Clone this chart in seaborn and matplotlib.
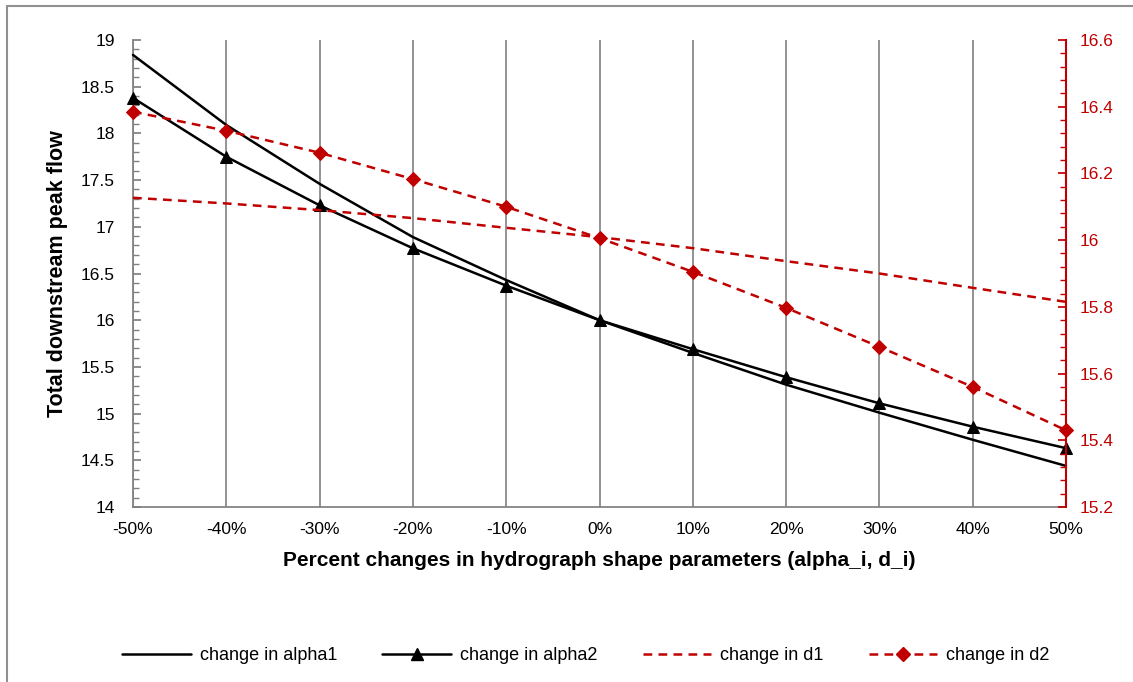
import matplotlib
matplotlib.use("Agg")
import matplotlib.pyplot as plt
import seaborn as sns
import pandas as pd
from matplotlib.ticker import MultipleLocator
from matplotlib.lines import Line2D

sns.set_theme(style="white")
plt.rcParams['font.family'] = ['Liberation Sans', 'DejaVu Sans']
plt.rcParams['text.color'] = 'black'
plt.rcParams['axes.labelcolor'] = 'black'

pct = [-50, -40, -30, -20, -10, 0, 10, 20, 30, 40, 50]
pct_labels = ["-50%", "-40%", "-30%", "-20%", "-10%", "0%", "10%", "20%", "30%", "40%", "50%"]
alpha1 = [18.84, 18.09, 17.46, 16.89, 16.43, 16.00, 15.65, 15.31, 15.01, 14.72, 14.44]
alpha2 = [18.38, 17.75, 17.23, 16.77, 16.37, 16.00, 15.69, 15.39, 15.11, 14.86, 14.63]
d1 = [16.127, 16.11, 16.09, 16.066, 16.037, 16.009, 15.976, 15.937, 15.90, 15.857, 15.815]
d2 = [16.385, 16.328, 16.262, 16.183, 16.10, 16.006, 15.905, 15.797, 15.68, 15.56, 15.43]

RED = "#C00000"
df = pd.DataFrame({"pct": pct, "alpha1": alpha1, "alpha2": alpha2, "d1": d1, "d2": d2})

fig = plt.figure(figsize=(11.33, 6.82), dpi=100)
ax = fig.add_axes([133/1133, 1-507/682, (1066-133)/1133, (507-40)/682])
ax2 = ax.twinx()

DASH = (0, (3.5, 2.5))
sns.lineplot(data=df, x="pct", y="alpha1", ax=ax, color="black", linewidth=1.8, zorder=5)
sns.lineplot(data=df, x="pct", y="alpha2", ax=ax, color="black", linewidth=1.8,
             marker="^", markersize=9, markeredgecolor="black", zorder=5)
sns.lineplot(data=df, x="pct", y="d1", ax=ax2, color=RED, linewidth=1.8, linestyle=DASH)
sns.lineplot(data=df, x="pct", y="d2", ax=ax2, color=RED, linewidth=1.8, linestyle=DASH,
             marker="D", markersize=7, markeredgecolor=RED)
for a in (ax, ax2):
    for ln in a.get_lines():
        ln.set_clip_on(False)

ax.set_xlim(-50, 50)
ax.set_ylim(14, 19)
ax2.set_ylim(15.2, 16.6)
ax.set_xticks(pct)
ax.set_xticklabels(pct_labels)
ax.xaxis.set_minor_locator(MultipleLocator(2))
ax.yaxis.set_minor_locator(MultipleLocator(0.1))
ax.set_yticks([14, 14.5, 15, 15.5, 16, 16.5, 17, 17.5, 18, 18.5, 19])
ax.set_yticklabels(["14", "14.5", "15", "15.5", "16", "16.5", "17", "17.5", "18", "18.5", "19"])
ax2.set_yticks([15.2, 15.4, 15.6, 15.8, 16.0, 16.2, 16.4, 16.6])
ax2.set_yticklabels(["15.2", "15.4", "15.6", "15.8", "16", "16.2", "16.4", "16.6"])
ax2.yaxis.set_minor_locator(MultipleLocator(0.04))

ax.grid(axis="x", which="major", color="#808080", linewidth=1.2)
ax.set_axisbelow(True)

for s in ["top", "right"]:
    ax.spines[s].set_visible(False)
ax2.spines["top"].set_visible(False)
ax2.spines["left"].set_visible(False)
ax2.spines["bottom"].set_visible(False)
ax.spines["left"].set_color("#808080")
ax.spines["bottom"].set_color("#808080")
ax2.spines["right"].set_color(RED)
ax2.spines["right"].set_linewidth(1.5)

TS = 12.5
ax.tick_params(axis="both", which="both", direction="in", labelsize=TS, labelcolor="black")
ax.tick_params(axis="both", which="major", length=6, color="#808080")
ax.tick_params(axis="both", which="minor", length=4, color="#808080")
ax.tick_params(axis="x", pad=11)
ax.tick_params(axis="y", pad=13)
ax2.tick_params(axis="y", which="both", direction="in", labelsize=TS, colors=RED, pad=10)
ax2.tick_params(axis="y", which="major", length=6)
ax2.tick_params(axis="y", which="minor", length=4)

ax.set_xlabel("Percent changes in hydrograph shape parameters (alpha_i, d_i)",
              fontsize=15, fontweight="bold", labelpad=10, color="black")
ax.set_ylabel("Total downstream peak flow", fontsize=15.5, fontweight="bold", labelpad=9,
              color="black")
ax2.set_ylabel("")

handles = [
    Line2D([], [], color="black", linewidth=1.8),
    Line2D([], [], color="black", linewidth=1.8, marker="^", markersize=9),
    Line2D([], [], color=RED, linewidth=1.8, linestyle=DASH),
    Line2D([], [], color=RED, linewidth=1.8, linestyle=DASH, marker="D", markersize=7),
]
labels = ["change in alpha1", "change in alpha2", "change in d1", "change in d2"]
leg = fig.legend(handles, labels, loc="center", bbox_to_anchor=(586/1133, 1-656/682), ncol=4,
                 frameon=False, fontsize=13, handlelength=3.8, columnspacing=2.5,
                 handletextpad=0.5)
for t in leg.get_texts():
    t.set_color("black")

fig.add_artist(Line2D([7/1133, 7/1133], [0, 1-6/682], transform=fig.transFigure,
                      color="#909090", linewidth=1.5))
fig.add_artist(Line2D([7/1133, 1], [1-6/682, 1-6/682], transform=fig.transFigure,
                      color="#909090", linewidth=1.5))

fig.savefig("out.png", dpi=100, facecolor="white")
